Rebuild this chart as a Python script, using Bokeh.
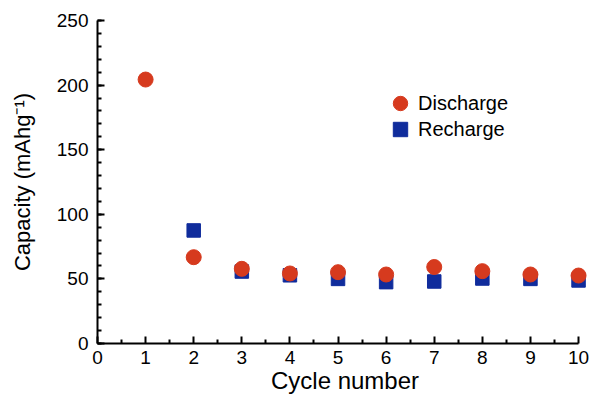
from bokeh.plotting import figure
from bokeh.models import Range1d, Legend, LegendItem, FixedTicker, ColumnDataSource
from bokeh.embed import file_html
from bokeh.resources import INLINE

cycles_dis = [1, 2, 3, 4, 5, 6, 7, 8, 9, 10]
discharge = [204.3, 66.8, 57.8, 54.2, 55.2, 53.4, 59.2, 56.0, 53.4, 52.6]
cycles_rec = [2, 3, 4, 5, 6, 7, 8, 9, 10]
recharge = [87.5, 55.7, 52.8, 50.0, 47.5, 48.0, 50.3, 50.0, 48.8]
x_ticks = [0, 1, 2, 3, 4, 5, 6, 7, 8, 9, 10]
y_ticks = [0, 50, 100, 150, 200, 250]

FONT = "Liberation Sans"
RED = "#D63A1E"
BLUE = "#102C9C"

p = figure(width=592, height=399, output_backend="svg", toolbar_location=None,
           x_range=Range1d(0, 10.29), y_range=Range1d(0, 250),
           min_border_left=97, min_border_right=0, min_border_top=20, min_border_bottom=56)
p.outline_line_color = None
p.xgrid.visible = False
p.ygrid.visible = False
p.background_fill_color = "white"
p.border_fill_color = "white"

src_d = ColumnDataSource(dict(x=cycles_dis, y=discharge))
src_r = ColumnDataSource(dict(x=cycles_rec, y=recharge))
r_rec = p.scatter("x", "y", source=src_r, marker="square", size=13.5,
                  fill_color=BLUE, line_color=BLUE)
r_dis = p.scatter("x", "y", source=src_d, marker="circle", size=15,
                  fill_color=RED, line_color=RED)

for ax in (p.xaxis[0], p.yaxis[0]):
    ax.axis_line_width = 2
    ax.axis_line_color = "black"
    ax.major_tick_line_width = 2
    ax.minor_tick_line_width = 2
    ax.major_tick_in = 7
    ax.major_tick_out = 0
    ax.minor_tick_in = 4
    ax.minor_tick_out = 0
    ax.major_label_text_font = FONT
    ax.major_label_text_font_size = "19px"
    ax.major_label_text_color = "black"
    ax.axis_label_text_font = FONT
    ax.axis_label_text_font_style = "normal"
    ax.axis_label_text_color = "black"

p.xaxis.axis_label_text_font_size = "24px"
p.yaxis.axis_label_text_font_size = "22px"
p.xaxis.ticker = FixedTicker(ticks=x_ticks, minor_ticks=[i + 0.5 for i in range(10)])
p.yaxis.ticker = FixedTicker(ticks=y_ticks, minor_ticks=list(range(0, 251, 10)))
p.xaxis.bounds = (0, 10)
p.yaxis.bounds = (0, 250)
p.xaxis.axis_label = "Cycle number"
p.yaxis.axis_label = "Capacity (mAhg\u207b\u00b9)"
p.xaxis.major_label_standoff = 7
p.yaxis.major_label_standoff = 9
p.xaxis.axis_label_standoff = 0
p.yaxis.axis_label_standoff = 19

legend_style = dict(glyph_width=36, glyph_height=36, padding=0, margin=0,
                    label_standoff=0, border_line_color=None,
                    background_fill_alpha=0, label_text_font=FONT,
                    label_text_font_size="20px", label_text_color="black")
leg1 = Legend(items=[LegendItem(label="Discharge", renderers=[r_dis])],
              location=(285, 222), **legend_style)
leg2 = Legend(items=[LegendItem(label="Recharge", renderers=[r_rec])],
              location=(285, 196), **legend_style)
p.add_layout(leg1)
p.add_layout(leg2)

open("out.html", "w").write(file_html(p, INLINE))
